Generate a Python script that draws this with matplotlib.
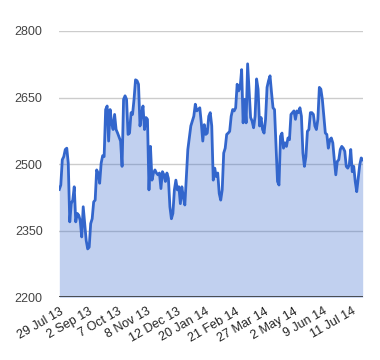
import numpy as np
import matplotlib
matplotlib.use("Agg")
import matplotlib.pyplot as plt

values = [
    2443, 2453, 2510, 2517, 2533, 2536, 2502, 2370, 2411, 2419,
    2449, 2370, 2389, 2385, 2373, 2336, 2404, 2366, 2328, 2309,
    2313, 2366, 2377, 2415, 2419, 2487, 2480, 2457, 2502, 2519,
    2517, 2623, 2631, 2552, 2623, 2593, 2578, 2612, 2578, 2570,
    2561, 2552, 2495, 2646, 2654, 2646, 2567, 2570, 2616, 2612,
    2646, 2690, 2688, 2680, 2586, 2612, 2631, 2578, 2605, 2601,
    2442, 2540, 2464, 2480, 2487, 2480, 2476, 2480, 2445, 2483,
    2476, 2461, 2480, 2468, 2404, 2377, 2389, 2442, 2464, 2442,
    2449, 2411, 2449, 2426, 2408, 2472, 2533, 2559, 2586, 2597,
    2608, 2635, 2620, 2623, 2627, 2593, 2552, 2589, 2567, 2570,
    2608, 2616,
    2586, 2464, 2491, 2472, 2480, 2434, 2419, 2442, 2525, 2536,
    2567, 2570, 2574, 2608, 2623, 2620, 2627, 2680, 2665, 2673,
    2713, 2593, 2646, 2593, 2726, 2665, 2605, 2597, 2582, 2608,
    2692, 2669, 2586, 2605, 2578, 2570, 2601, 2673, 2688, 2699,
    2661, 2627, 2623, 2540, 2461, 2453, 2563, 2570, 2536, 2548,
    2540, 2559, 2555, 2612, 2616, 2620, 2601, 2620, 2616, 2627,
    2608, 2525, 2495, 2517, 2574, 2578, 2616, 2616, 2612, 2586,
    2578, 2601, 2673, 2669, 2646, 2608, 2570, 2567, 2536, 2555,
    2559, 2548, 2510, 2476, 2506, 2510, 2533, 2540, 2536, 2529,
    2495, 2491, 2498, 2533, 2483, 2495, 2461, 2438, 2468, 2498,
    2514, 2510,
]
tick_labels = ["29 Jul 13", "2 Sep 13", "7 Oct 13", "8 Nov 13", "12 Dec 13",
               "20 Jan 14", "21 Feb 14", "27 Mar 14", "2 May 14", "9 Jun 14",
               "11 Jul 14"]
y_ticks = [2200, 2350, 2500, 2650, 2800]

plt.rcParams['font.family'] = ['Liberation Sans', 'DejaVu Sans']

N = len(values)
x = np.arange(N)

fig = plt.figure(figsize=(3.8, 3.6), dpi=100)
ax = fig.add_axes([59.3/380, 62.7/360, 303.4/380, 266.3/360])

line_color = '#3366cc'
for yv in y_ticks[1:]:
    ax.axhline(yv, color='#cccccc', lw=1, zorder=1)
ax.fill_between(x, 2200, values, color=line_color, alpha=0.3, lw=0, zorder=2)
ax.plot(x, values, color=line_color, lw=2, zorder=3, solid_joinstyle='round')
ax.axhline(2200, color='#333333', lw=1.2, zorder=4)

ax.set_xlim(0, N - 1)
ax.set_ylim(2200, 2800)
ax.set_yticks(y_ticks)
ax.set_yticklabels([str(v) for v in y_ticks], fontsize=9, color='#444444')
xt = np.linspace(0, 0.965 * (N - 1), len(tick_labels))
ax.set_xticks(xt)
ax.set_xticklabels(tick_labels, rotation=30, ha='right', rotation_mode='anchor',
                   fontsize=9, color='#222222')
ax.tick_params(axis='both', length=0)
ax.tick_params(axis='y', pad=12)
ax.tick_params(axis='x', pad=6)
for s in ax.spines.values():
    s.set_visible(False)

fig.savefig('out.png', dpi=100)
